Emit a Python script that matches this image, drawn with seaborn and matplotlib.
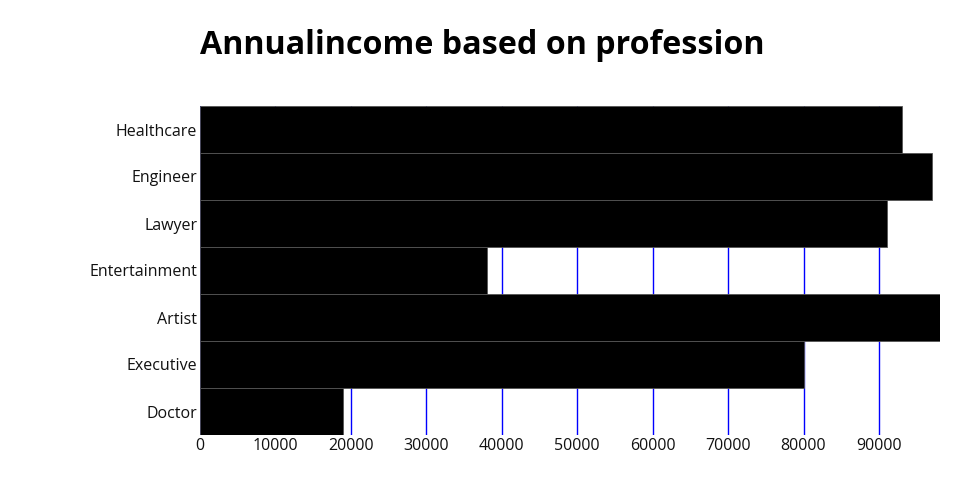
import pandas as pd
import seaborn as sns
import matplotlib.pyplot as plt

# 数据
professions = ['Healthcare', 'Engineer', 'Lawyer', 'Entertainment', 'Artist', 'Executive', 'Doctor']
annual_income = [93050, 97030, 91060, 38040, 98090, 80060, 18960]
x_ticks = [0, 10000, 20000, 30000, 40000, 50000, 60000, 70000, 80000, 90000]

def main():
    df = pd.DataFrame({'Profession': professions, 'Annual_Income': annual_income})

    sns.set_style('white')
    plt.rcParams['font.family'] = ['Open Sans', 'DejaVu Sans']

    fig = plt.figure(figsize=(9.6, 5), dpi=100)
    ax = fig.add_axes([200 / 960, 1 - 435 / 500, 740 / 960, 329 / 500])

    sns.barplot(data=df, x='Annual_Income', y='Profession', order=professions,
                color='black', saturation=1, width=1.0, orient='h',
                edgecolor='#555555', linewidth=0.6, ax=ax, zorder=2)

    ax.set_xlim(0, max(annual_income))
    ax.set_ylim(len(professions) - 0.5, -0.5)
    ax.set_xticks(x_ticks)
    ax.set_xticklabels([str(t) for t in x_ticks])
    ax.xaxis.grid(True, color='blue', linewidth=1, zorder=0)
    ax.set_axisbelow(True)
    ax.tick_params(axis='both', length=0, labelsize=11.5, colors='#111111', pad=2)
    for s in ax.spines.values():
        s.set_visible(False)
    ax.set_xlabel('')
    ax.set_ylabel('')

    fig.text(200 / 960, 1 - 45 / 500, 'Annualincome based on profession',
             fontsize=23.2, fontweight='bold', ha='left', va='center', color='black')

    fig.savefig('out.png', dpi=100)

if __name__ == "__main__":
    main()
